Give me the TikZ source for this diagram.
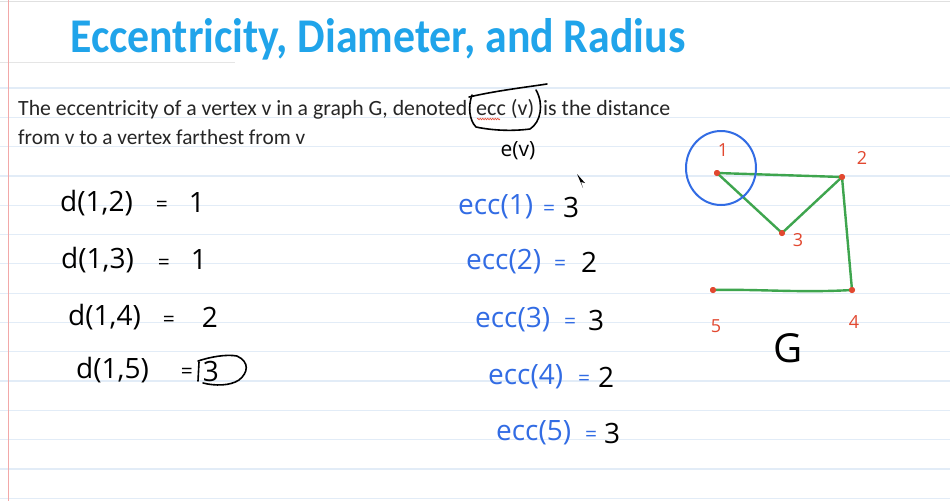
\documentclass[tikz,border=0pt]{standalone}
\usepackage{fontspec}
\setmainfont{Carlito}
\newfontfamily\hand{Open Sans}
\usetikzlibrary{decorations.pathmorphing}
\definecolor{titleblue}{RGB}{32,164,234}
\definecolor{inkblue}{RGB}{50,108,228}
\definecolor{inkgreen}{RGB}{62,165,78}
\definecolor{inkred}{RGB}{226,72,48}
\definecolor{rulecol}{RGB}{226,236,247}
\definecolor{margincol}{RGB}{242,168,168}
\tikzset{
  body/.style={anchor=base west, inner sep=0pt, text=black!85},
  hw/.style={inner sep=0pt, font=\hand\fontsize{28}{32}\selectfont},
  hwl/.style={hw, anchor=west},
  eqs/.style={inner sep=0pt, font=\hand\fontsize{21}{24}\selectfont},
  eqb/.style={hw, text=inkblue},
  eqsb/.style={eqs, text=inkblue},
  vlab/.style={inner sep=0pt, text=inkred, font=\hand\fontsize{18}{21}\selectfont},
  vdot/.style={circle, fill=inkred, inner sep=0pt, minimum size=6pt},
  edge/.style={draw=inkgreen, line width=2.4pt, line cap=round, line join=round},
  pen/.style={draw=black, line width=1.6pt, line cap=round, line join=round},
}
\begin{document}
\begin{tikzpicture}[x=1pt,y=-1pt]
\useasboundingbox (0,0) rectangle (950,501);
\fill[white] (0,0) rectangle (950,501);
% ruled paper
\foreach \k in {0,...,14} \draw[rulecol, line width=1.2pt] (0,{88+29.3*\k}) -- (950,{88+29.3*\k});
\draw[black!10, line width=1pt] (0,62) -- (235,62);
\draw[black!12, line width=1pt] (0,1) -- (950,1);
\draw[margincol, line width=1pt] (8,0) -- (8,501);

% title
\node[anchor=base west, inner sep=0pt, text=titleblue, font=\bfseries] (title) at (70,52)
  {\resizebox{615pt}{34pt}{Eccentricity, Diameter, and Radius}};

% definition text
\node[body] (t1) at (18,115) {\resizebox{449pt}{!}{The eccentricity of a vertex v in a graph G, denoted}};
\node[body] (t2) at (476,115) {\resizebox{58pt}{!}{ecc (v)}};
\node[body] (t3) at (543,115) {\resizebox{127pt}{!}{is the distance}};
\node[body] (t4) at (18,144) {\resizebox{287pt}{!}{from v to a vertex farthest from v}};
\draw[inkred, line width=0.6pt, decorate, decoration={snake, amplitude=0.8pt, segment length=2.5pt}] (477,119) -- (500,119);
% hand box around ecc (v)
\draw[pen] (469,97) .. controls (495,91) and (520,88) .. (547,84);
\draw[pen] (472,95) .. controls (468,106) and (469,120) .. (476,127)
  .. controls (495,131) and (515,131) .. (530,129)
  .. controls (541,122) and (544,104) .. (536,90);
\node[hw, font=\hand\fontsize{21}{24}\selectfont] (ev) at (518,151) {e(v)};

% distances
\node[hwl] (d12) at (60,203) {d(1,2)};
\node[eqs] (d12e) at (162,206) {=};
\node[hw] (d12v) at (197,203) {1};
\node[hwl] (d13) at (61,260) {d(1,3)};
\node[eqs] (d13e) at (164,264) {=};
\node[hw] (d13v) at (199,260) {1};
\node[hwl] (d14) at (68,317) {d(1,4)};
\node[eqs] (d14e) at (169,321) {=};
\node[hw] (d14v) at (210,317) {2};
\node[hwl] (d15) at (76,370) {d(1,5)};
\node[eqs] (d15e) at (187,373) {=};
\node[hw] (d15v) at (211,371) {3};
\draw[pen] (199,362) -- (198,381);
\draw[pen] (198,361) .. controls (210,357) and (226,354) .. (237,356)
  .. controls (250,362) and (248,373) .. (239,380)
  .. controls (230,386) and (215,386) .. (203,383);

% eccentricities
\node[eqb, anchor=west] (e1) at (458,207) {ecc(1)};
\node[eqsb] (e1e) at (549,210) {=};
\node[hw] (e1v) at (571,207) {3};
\node[eqb, anchor=west] (e2) at (466,262) {ecc(2)};
\node[eqsb] (e2e) at (560,265) {=};
\node[hw] (e2v) at (589,262) {2};
\node[eqb, anchor=west] (e3) at (475,320) {ecc(3)};
\node[eqsb] (e3e) at (570,323) {=};
\node[hw] (e3v) at (596,320) {3};
\node[eqb, anchor=west] (e4) at (488,377) {ecc(4)};
\node[eqsb] (e4e) at (584,380) {=};
\node[hw] (e4v) at (606,377) {2};
\node[eqb, anchor=west] (e5) at (496,433) {ecc(5)};
\node[eqsb] (e5e) at (591,436) {=};
\node[hw] (e5v) at (612,433) {3};
% mouse pointer
\fill[black] (577,174) -- (583,188) -- (581,182) -- (585,183) -- cycle;

% graph G
\node[vdot] (v1) at (717,173) {};
\node[vdot] (v2) at (842,177) {};
\node[vdot] (v3) at (782,233) {};
\node[vdot] (v4) at (852,290) {};
\node[vdot] (v5) at (713,290) {};
\draw[edge] (v1.center) -- (v2.center);
\draw[edge] (v1.center) -- (v3.center);
\draw[edge] (v3.center) -- (v2.center);
\draw[edge] (v2.center) -- (v4.center);
\draw[edge] (v4.center) .. controls (800,293) and (760,289) .. (v5.center);
\node[vdot] at (v1) {};
\node[vdot] at (v2) {};
\node[vdot] at (v3) {};
\node[vdot] at (v4) {};
\node[vdot] at (v5) {};
\draw[inkblue, line width=2pt] (721,168) ellipse [x radius=35pt, y radius=37pt];
\node[vlab] (l1) at (723,150) {1};
\node[vlab] (l2) at (862,158) {2};
\node[vlab] (l3) at (798,240) {3};
\node[vlab] (l4) at (854,322) {4};
\node[vlab] (l5) at (716,326) {5};
\node[inner sep=0pt, font=\hand\fontsize{40}{44}\selectfont] (G) at (788,348) {G};
\end{tikzpicture}
\end{document}
